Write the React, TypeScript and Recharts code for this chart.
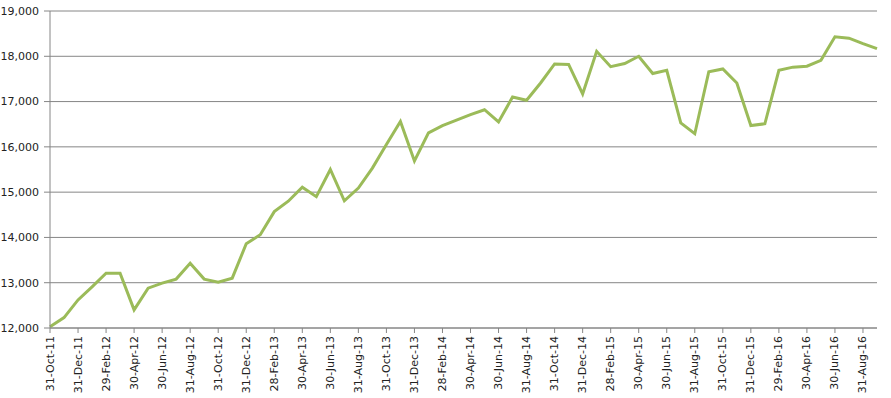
import { LineChart, Line, XAxis, YAxis, CartesianGrid } from "recharts";

const dates = [
  "31-Oct-11", "30-Nov-11", "31-Dec-11", "31-Jan-12", "29-Feb-12", "31-Mar-12",
  "30-Apr-12", "31-May-12", "30-Jun-12", "31-Jul-12", "31-Aug-12", "30-Sep-12",
  "31-Oct-12", "30-Nov-12", "31-Dec-12", "31-Jan-13", "28-Feb-13", "31-Mar-13",
  "30-Apr-13", "31-May-13", "30-Jun-13", "31-Jul-13", "31-Aug-13", "30-Sep-13",
  "31-Oct-13", "30-Nov-13", "31-Dec-13", "31-Jan-14", "28-Feb-14", "31-Mar-14",
  "30-Apr-14", "31-May-14", "30-Jun-14", "31-Jul-14", "31-Aug-14", "30-Sep-14",
  "31-Oct-14", "30-Nov-14", "31-Dec-14", "31-Jan-15", "28-Feb-15", "31-Mar-15",
  "30-Apr-15", "31-May-15", "30-Jun-15", "31-Jul-15", "31-Aug-15", "30-Sep-15",
  "31-Oct-15", "30-Nov-15", "31-Dec-15", "31-Jan-16", "29-Feb-16", "31-Mar-16",
  "30-Apr-16", "31-May-16", "30-Jun-16", "31-Jul-16", "31-Aug-16", "30-Sep-16",
];

const values = [
  12030, 12230, 12620, 12910, 13210, 13210, 12400, 12880, 12990, 13080,
  13430, 13080, 13010, 13100, 13860, 14060, 14570, 14800, 15110, 14900,
  15500, 14810, 15090, 15530, 16050, 16560, 15690, 16310, 16470, 16590,
  16710, 16820, 16550, 17100, 17030, 17410, 17830, 17820, 17170, 18110,
  17770, 17840, 18000, 17620, 17690, 16530, 16290, 17660, 17720, 17410,
  16470, 16510, 17690, 17760, 17780, 17910, 18430, 18400, 18280, 18170,
];

const yTicks = [12000, 13000, 14000, 15000, 16000, 17000, 18000, 19000];

const data = dates.map((d, i) => ({ date: d, value: values[i] }));

const FONT = "'DejaVu Sans', Tahoma, sans-serif";
const GRID = "#868686";

function DateTick({ x, y, payload }: any) {
  return (
    <text
      transform={`translate(${x},${y}) rotate(-90)`}
      textAnchor="end"
      dominantBaseline="central"
      fontSize={11}
      fontFamily={FONT}
      fill="#222"
    >
      {payload.value}
    </text>
  );
}

export default function App() {
  return (
    <div style={{ position: "absolute", left: 0, top: 0, background: "#fff" }}>
      <LineChart
        width={891}
        height={398}
        data={data}
        margin={{ top: 11, right: 14, bottom: 0, left: 0 }}
      >
        <CartesianGrid vertical={false} stroke={GRID} />
        <XAxis
          dataKey="date"
          interval={1}
          height={70}
          tickSize={5}
          tickMargin={3}
          stroke={GRID}
          tick={<DateTick />}
        />
        <YAxis
          width={50}
          domain={[12000, 19000]}
          ticks={yTicks}
          tickSize={6}
          tickMargin={5}
          stroke={GRID}
          tick={{ fontSize: 11, fontFamily: FONT, fill: "#222" }}
          tickFormatter={(v: number) => v.toLocaleString("en-US")}
        />
        <Line
          type="linear"
          dataKey="value"
          stroke="#9BBB59"
          strokeWidth={3}
          dot={false}
          isAnimationActive={false}
        />
      </LineChart>
    </div>
  );
}
